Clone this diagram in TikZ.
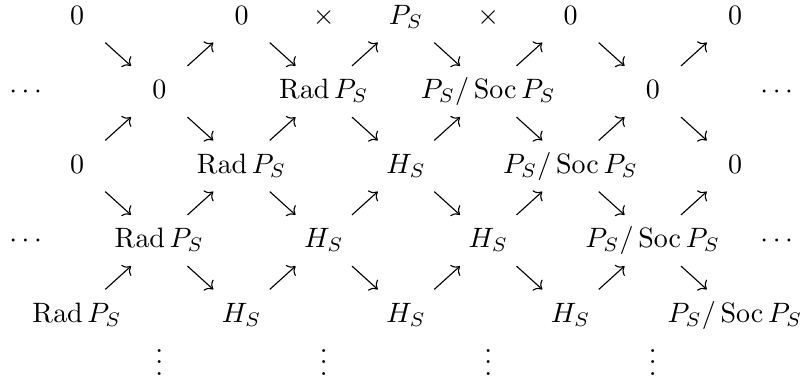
\documentclass[tikz,border=0pt]{standalone}
\usepackage{amsmath,amssymb}
\usetikzlibrary{arrows.meta}
\DeclareMathOperator{\Rad}{Rad}
\DeclareMathOperator{\Soc}{Soc}

\begin{document}
\begin{tikzpicture}[x=0.357pt,y=-0.357pt,
  obj/.style={inner sep=0pt,text height=7pt,text depth=2pt},
  arr/.style={-{Computer Modern Rightarrow},shorten <=13.6pt,shorten >=13.6pt}
]
\useasboundingbox (0,0) rectangle (801,381);
% row 1
\node[obj] (n1-0) at (77,17) {$0$};
\node[obj] (n1-2) at (241.5,17) {$0$};
\node[obj] (x1) at (323.75,17) {$\times$};
\node[obj] (n1-4) at (406,17) {$P_S$};
\node[obj] (x2) at (488.25,17) {$\times$};
\node[obj] (n1-6) at (570.5,17) {$0$};
\node[obj] (n1-8) at (735,17) {$0$};
% row 2
\node[obj] (l2) at (28,91.5) {$\cdots$};
\node[obj] (n2-1) at (159.25,91.5) {$0$};
\node[obj] (n2-3) at (323.75,91.5) {$\Rad P_S$};
\node[obj] (n2-5) at (488.25,91.5) {$P_S/\Soc P_S$};
\node[obj] (n2-7) at (652.75,91.5) {$0$};
\node[obj] (r2) at (779,91.5) {$\cdots$};
% row 3
\node[obj] (n3-0) at (77,166) {$0$};
\node[obj] (n3-2) at (241.5,166) {$\Rad P_S$};
\node[obj] (n3-4) at (406,166) {$H_S$};
\node[obj] (n3-6) at (570.5,166) {$P_S/\Soc P_S$};
\node[obj] (n3-8) at (735,166) {$0$};
% row 4
\node[obj] (l4) at (28,240.5) {$\cdots$};
\node[obj] (n4-1) at (159.25,240.5) {$\Rad P_S$};
\node[obj] (n4-3) at (323.75,240.5) {$H_S$};
\node[obj] (n4-5) at (488.25,240.5) {$H_S$};
\node[obj] (n4-7) at (652.75,240.5) {$P_S/\Soc P_S$};
\node[obj] (r4) at (779,240.5) {$\cdots$};
% row 5
\node[obj] (n5-0) at (77,315) {$\Rad P_S$};
\node[obj] (n5-2) at (241.5,315) {$H_S$};
\node[obj] (n5-4) at (406,315) {$H_S$};
\node[obj] (n5-6) at (570.5,315) {$H_S$};
\node[obj] (n5-8) at (735,315) {$P_S/\Soc P_S$};
% dots
\node[inner sep=0pt,anchor=base] (d1) at (159.25,375) {$\vdots$};
\node[inner sep=0pt,anchor=base] (d3) at (323.75,375) {$\vdots$};
\node[inner sep=0pt,anchor=base] (d5) at (488.25,375) {$\vdots$};
\node[inner sep=0pt,anchor=base] (d7) at (652.75,375) {$\vdots$};
% arrows
\foreach \r/\s in {1/2,3/4} {
  \foreach \j/\k in {0/1,2/3,4/5,6/7} \draw[arr] (n\r-\j.center) -- (n\s-\k.center);
  \foreach \j/\k in {1/2,3/4,5/6,7/8} \draw[arr] (n\s-\j.center) -- (n\r-\k.center);
}
\foreach \r/\s in {2/3,4/5} {
  \foreach \j/\k in {1/2,3/4,5/6,7/8} \draw[arr] (n\r-\j.center) -- (n\s-\k.center);
  \foreach \j/\k in {0/1,2/3,4/5,6/7} \draw[arr] (n\s-\j.center) -- (n\r-\k.center);
}
\end{tikzpicture}
\end{document}
